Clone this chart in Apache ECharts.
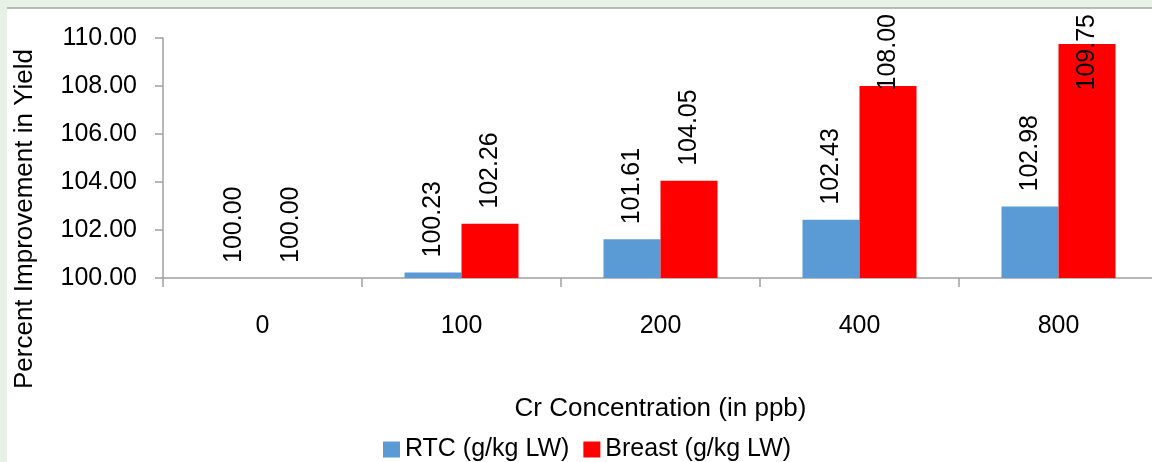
<!DOCTYPE html>
<html>
<head>
<meta charset="utf-8">
<script src="https://cdn.jsdelivr.net/npm/echarts@6/dist/echarts.min.js"></script>
<style>
html,body{margin:0;padding:0;background:#e8f1e6;}
#main{width:1152px;height:462px;}
</style>
</head>
<body>
<div id="main"></div>
<script>
const categories = ['0', '100', '200', '400', '800'];
const rtcValues = [100.00, 100.23, 101.61, 102.43, 102.98];
const breastValues = [100.00, 102.26, 104.05, 108.00, 109.75];
const seriesNames = ['RTC (g/kg LW)', 'Breast (g/kg LW)'];
const yTicks = { min: 100, max: 110, interval: 2 };

const FONT = '"Liberation Sans", Arial, sans-serif';
const chart = echarts.init(document.getElementById('main'));

const labelCfg = {
  show: true,
  position: 'top',
  rotate: 90,
  align: 'left',
  verticalAlign: 'middle',
  distance: 15,
  fontFamily: FONT,
  fontSize: 25,
  color: '#000',
  formatter: p => p.value.toFixed(2)
};

// keep labels inside the chart area (like the original), pushing them down onto the bar if needed.
// The label is rotated 90deg, so its local x axis points up on screen.
const clampLabel = function (params) {
  const r = params.labelRect;
  if (r.y < 14) return { dx: -(14 - r.y) };
  return {};
};

chart.setOption({
  animation: false,
  backgroundColor: '#e8f1e6',
  graphic: [
    { type: 'rect', z: -10, shape: { x: 7, y: 8, width: 1150, height: 460 }, style: { fill: '#ffffff' } },
    { type: 'line', z: -9, shape: { x1: 7, y1: 8, x2: 1152, y2: 8 }, style: { stroke: '#a5a5a5', lineWidth: 1.5 } }
  ],
  grid: { left: 163, top: 38, width: 995, height: 240, containLabel: false, outerBoundsMode: 'none' },
  legend: {
    data: seriesNames,
    left: 378,
    top: 432,
    icon: 'rect',
    itemWidth: 17,
    itemHeight: 16,
    itemGap: 14,
    textStyle: { fontFamily: FONT, fontSize: 25, color: '#000' }
  },
  xAxis: {
    type: 'category',
    data: categories,
    name: 'Cr Concentration (in ppb)',
    nameLocation: 'middle',
    nameGap: 118,
    nameTextStyle: { fontFamily: FONT, fontSize: 26, color: '#000' },
    axisLine: { lineStyle: { color: '#a0a0a0', width: 1.5 } },
    axisTick: { show: true, length: 9, lineStyle: { color: '#a0a0a0', width: 1.5 } },
    axisLabel: { fontFamily: FONT, fontSize: 25, color: '#000', margin: 36 },
    splitLine: { show: false }
  },
  yAxis: {
    type: 'value',
    min: yTicks.min,
    max: yTicks.max,
    interval: yTicks.interval,
    name: 'Percent Improvement in Yield',
    nameLocation: 'middle',
    nameGap: 125,
    nameTextStyle: { fontFamily: FONT, fontSize: 26, color: '#000', padding: [0, 122, 0, 0] },
    axisLine: { show: true, lineStyle: { color: '#a0a0a0', width: 1.5 } },
    axisTick: { show: true, length: 8, lineStyle: { color: '#a0a0a0', width: 1.5 } },
    axisLabel: { fontFamily: FONT, fontSize: 25, color: '#000', margin: 26, formatter: v => v.toFixed(2) },
    splitLine: { show: false }
  },
  series: [
    {
      name: seriesNames[0], type: 'bar', data: rtcValues,
      barWidth: 57, barGap: '0%',
      itemStyle: { color: '#5b9bd5' },
      label: labelCfg,
      labelLayout: clampLabel
    },
    {
      name: seriesNames[1], type: 'bar', data: breastValues,
      barWidth: 57, barGap: '0%',
      itemStyle: { color: '#ff0000' },
      label: labelCfg,
      labelLayout: clampLabel
    }
  ]
});
</script>
</body>
</html>
